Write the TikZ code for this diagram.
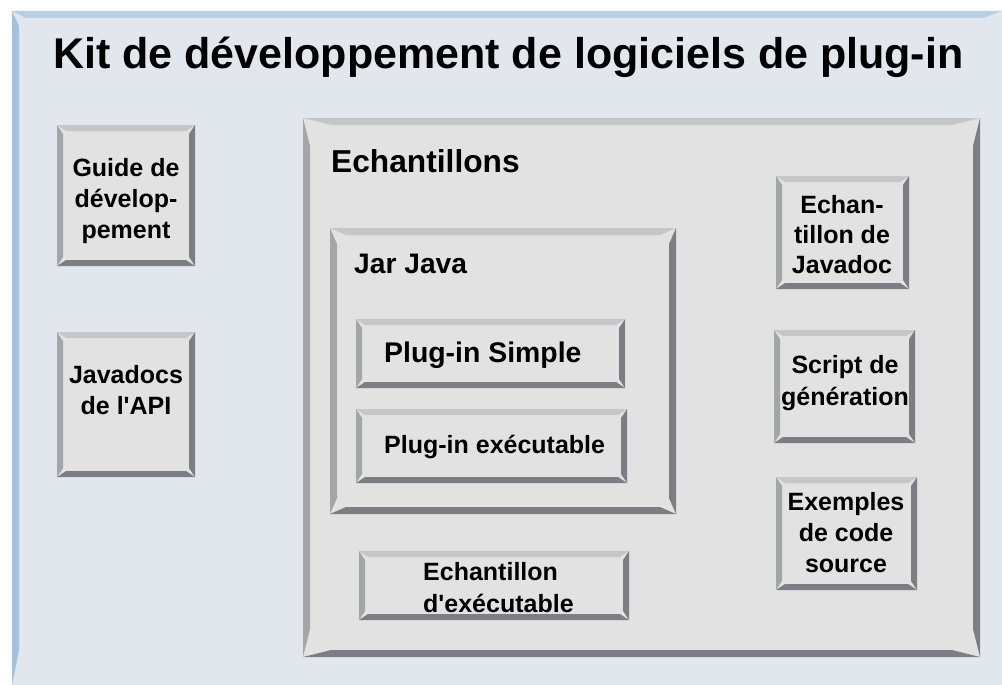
\documentclass[tikz,border=0pt]{standalone}
\usepackage{fontspec}
\setmainfont{Liberation Sans}
\newfontfamily\straightq{Liberation Sans}
\newcommand\sq{{\straightq\bfseries '}}
\definecolor{pagebg}{HTML}{E1E7ED}
\definecolor{bluetop}{HTML}{B7CFE0}
\definecolor{blueleft}{HTML}{A6C1DC}
\definecolor{face}{HTML}{E2E2E2}
\definecolor{bvtopc}{HTML}{C5C6C8}
\definecolor{bvleftc}{HTML}{A3A5A8}
\definecolor{bvdarkc}{HTML}{7B7E83}
\tikzset{
  lbl/.style={inner sep=0pt, text=black},
  boxtxt/.style={lbl, anchor=base, font=\fontsize{25}{31}\selectfont\bfseries},
}
\newcommand\bevbox[6]{%
  \fill[face] (#1,#2) rectangle (#3,#4);
  \fill[bvtopc] (#1,#2) -- (#3,#2) -- ({#3-#6},{#2+#5}) -- ({#1+#6},{#2+#5}) -- cycle;
  \fill[bvleftc] (#1,#2) -- ({#1+#5},{#2+#6}) -- ({#1+#5},{#4-#6}) -- (#1,#4) -- cycle;
  \fill[bvdarkc] (#3,#2) -- (#3,#4) -- ({#3-#5},{#4-#6}) -- ({#3-#5},{#2+#6}) -- cycle;
  \fill[bvdarkc] (#1,#4) -- (#3,#4) -- ({#3-#6},{#4-#5}) -- ({#1+#6},{#4-#5}) -- cycle;
}
\begin{document}
\begin{tikzpicture}[x=1pt,y=-1pt]
\useasboundingbox (0,0) rectangle (1002,685);
\fill[white] (0,0) rectangle (1002,685);
% outer panel
\fill[pagebg] (12,11) rectangle (1002,685);
\fill[bluetop] (12,11) -- (1002,11) -- (983,18) -- (26,18) -- cycle;
\fill[blueleft] (12,11) -- (19,26) -- (19,650) -- (12,685) -- cycle;
\node[lbl, anchor=base west, font=\fontsize{43}{50}\selectfont\bfseries] (title) at (53,69) {Kit de développement de logiciels de plug-in};

% left boxes
\bevbox{57}{125}{195}{266}{6}{9}
\node[boxtxt] (guide) at (126,176) {\begin{tabular}[t]{@{}c@{}}Guide de\\dévelop-\\pement\end{tabular}};
\bevbox{57}{332}{195}{477}{6}{9}
\node[boxtxt] (apidoc) at (126,383) {\begin{tabular}[t]{@{}c@{}}Javadocs\\de l\sq API\end{tabular}};

% samples frame
\bevbox{303}{118}{980}{657}{7}{28}
\node[lbl, anchor=base west, font=\fontsize{31.7}{37}\selectfont\bfseries] (samples) at (331,172) {Echantillons};

\bevbox{330}{228}{676}{514}{7}{16}
\node[lbl, anchor=base west, font=\fontsize{28.2}{33}\selectfont\bfseries] (jar) at (354,273) {Jar Java};

\bevbox{356}{319}{625}{388}{6}{9}
\node[lbl, anchor=base west, font=\fontsize{28.4}{33}\selectfont\bfseries] (simple) at (384,362) {Plug-in Simple};
\bevbox{356}{409}{627}{483}{6}{9}
\node[lbl, anchor=base west, font=\fontsize{25}{29}\selectfont\bfseries] (execplug) at (384,453) {Plug-in exécutable};

\bevbox{359}{551}{629}{620}{6}{9}
\node[lbl, anchor=base west, font=\fontsize{25}{32}\selectfont\bfseries] (execsample) at (423,580) {\begin{tabular}[t]{@{}l@{}}Echantillon\\d\sq exécutable\end{tabular}};

% right column
\bevbox{776}{176}{909}{289}{6}{9}
\node[boxtxt, font=\fontsize{25}{30}\selectfont\bfseries] (jdocsample) at (842,213) {\begin{tabular}[t]{@{}c@{}}Echan-\\tillon de\\Javadoc\end{tabular}};
\bevbox{774}{330}{915}{443}{6}{9}
\node[boxtxt, font=\fontsize{25}{32}\selectfont\bfseries] (buildscript) at (845,373) {\begin{tabular}[t]{@{}c@{}}Script de\\génération\end{tabular}};
\bevbox{776}{477}{917}{590}{6}{9}
\node[boxtxt] (codesamples) at (846,510) {\begin{tabular}[t]{@{}c@{}}Exemples\\de code\\source\end{tabular}};
\end{tikzpicture}
\end{document}
